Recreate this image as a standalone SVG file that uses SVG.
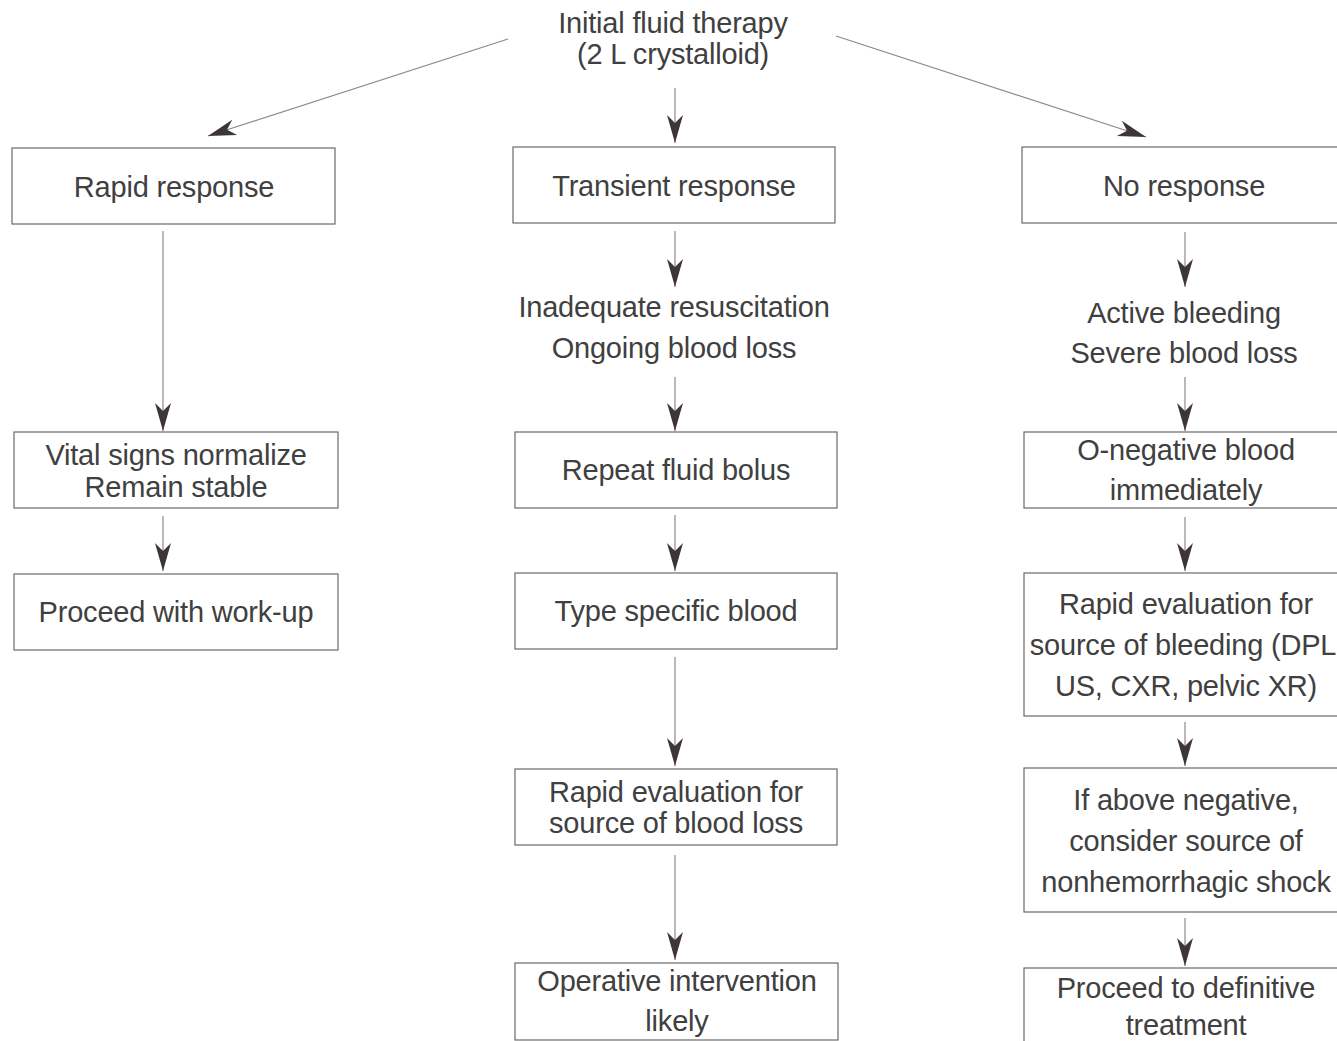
<svg xmlns="http://www.w3.org/2000/svg" width="1337" height="1041" viewBox="0 0 1337 1041">
<style>
.box{fill:#fff;stroke:#6a6a6a;stroke-width:1.2}
.t{font-family:"Liberation Sans",Arial,sans-serif;font-size:29px;fill:#404040;text-anchor:middle;letter-spacing:-0.2px}
.c{stroke:#8a8a8a;stroke-width:1.2;fill:none}
</style>
<defs>
<marker id="ah" viewBox="-30 -10 32 20" refX="0" refY="0" markerWidth="32" markerHeight="20" markerUnits="userSpaceOnUse" orient="auto">
<path d="M0,0 L-28,-8 L-20,0 L-28,8 Z" fill="#3e3636"/>
</marker>
</defs>
<rect width="1337" height="1041" fill="#fff"/>
<g id="connectors">
<path class="c" d="M508,39 L208,136" marker-end="url(#ah)"/>
<path class="c" d="M675,88 L675,143" marker-end="url(#ah)"/>
<path class="c" d="M836,36 L1146,137" marker-end="url(#ah)"/>
<path class="c" d="M163,231 L163,431" marker-end="url(#ah)"/>
<path class="c" d="M163,516 L163,571" marker-end="url(#ah)"/>
<path class="c" d="M675,231 L675,287" marker-end="url(#ah)"/>
<path class="c" d="M675,377 L675,431" marker-end="url(#ah)"/>
<path class="c" d="M675,515 L675,571" marker-end="url(#ah)"/>
<path class="c" d="M675,657 L675,766" marker-end="url(#ah)"/>
<path class="c" d="M675,855 L675,960" marker-end="url(#ah)"/>
<path class="c" d="M1185,232 L1185,287" marker-end="url(#ah)"/>
<path class="c" d="M1185,377 L1185,431" marker-end="url(#ah)"/>
<path class="c" d="M1185,517 L1185,571" marker-end="url(#ah)"/>
<path class="c" d="M1185,722 L1185,766" marker-end="url(#ah)"/>
<path class="c" d="M1185,918 L1185,966" marker-end="url(#ah)"/>
</g>
<g id="initial">
<text class="t" x="673" y="33">Initial fluid therapy</text>
<text class="t" x="673" y="64">(2 L crystalloid)</text>
</g>
<g id="rapid-response">
<rect class="box" x="12" y="148" width="323" height="76"/>
<text class="t" x="174" y="197">Rapid response</text>
</g>
<g id="vital-signs">
<rect class="box" x="14" y="432" width="324" height="76"/>
<text class="t" x="176" y="465">Vital signs normalize</text>
<text class="t" x="176" y="497">Remain stable</text>
</g>
<g id="proceed-workup">
<rect class="box" x="14" y="574" width="324" height="76"/>
<text class="t" x="176" y="622">Proceed with work-up</text>
</g>
<g id="transient-response">
<rect class="box" x="513" y="147" width="322" height="76"/>
<text class="t" x="674" y="196">Transient response</text>
</g>
<g id="inadequate">
<text class="t" x="674" y="317">Inadequate resuscitation</text>
<text class="t" x="674" y="358">Ongoing blood loss</text>
</g>
<g id="repeat-bolus">
<rect class="box" x="515" y="432" width="322" height="76"/>
<text class="t" x="676" y="480">Repeat fluid bolus</text>
</g>
<g id="type-specific">
<rect class="box" x="515" y="573" width="322" height="76"/>
<text class="t" x="676" y="621">Type specific blood</text>
</g>
<g id="rapid-eval-loss">
<rect class="box" x="515" y="769" width="322" height="76"/>
<text class="t" x="676" y="802">Rapid evaluation for</text>
<text class="t" x="676" y="833">source of blood loss</text>
</g>
<g id="operative">
<rect class="box" x="515" y="963" width="323" height="77"/>
<text class="t" x="677" y="991">Operative intervention</text>
<text class="t" x="677" y="1031">likely</text>
</g>
<g id="no-response">
<rect class="box" x="1022" y="147" width="325" height="76"/>
<text class="t" x="1184" y="196">No response</text>
</g>
<g id="active-bleeding">
<text class="t" x="1184" y="323">Active bleeding</text>
<text class="t" x="1184" y="363">Severe blood loss</text>
</g>
<g id="o-negative">
<rect class="box" x="1024" y="432" width="323" height="76"/>
<text class="t" x="1186" y="460">O-negative blood</text>
<text class="t" x="1186" y="500">immediately</text>
</g>
<g id="rapid-eval-bleeding">
<rect class="box" x="1024" y="573" width="323" height="143"/>
<text class="t" x="1186" y="614">Rapid evaluation for</text>
<text class="t" x="1183" y="655">source of bleeding (DPL</text>
<text class="t" x="1186" y="696">US, CXR, pelvic XR)</text>
</g>
<g id="above-negative">
<rect class="box" x="1024" y="768" width="323" height="144"/>
<text class="t" x="1186" y="810">If above negative,</text>
<text class="t" x="1186" y="851">consider source of</text>
<text class="t" x="1186" y="892">nonhemorrhagic shock</text>
</g>
<g id="definitive">
<rect class="box" x="1024" y="968" width="323" height="80"/>
<text class="t" x="1186" y="998">Proceed to definitive</text>
<text class="t" x="1186" y="1035">treatment</text>
</g>
</svg>
